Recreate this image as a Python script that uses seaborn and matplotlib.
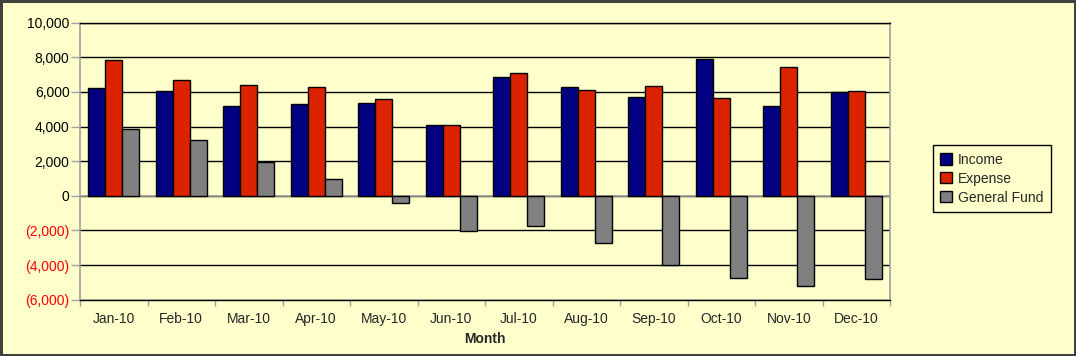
import numpy as np
import pandas as pd
import matplotlib
matplotlib.use("Agg")
import matplotlib.pyplot as plt
import matplotlib.ticker as mticker
import seaborn as sns

months = ["Jan-10", "Feb-10", "Mar-10", "Apr-10", "May-10", "Jun-10",
          "Jul-10", "Aug-10", "Sep-10", "Oct-10", "Nov-10", "Dec-10"]
income = [6200, 6050, 5170, 5280, 5340, 4070, 6840, 6270, 5690, 7880, 5170, 5980]
expense = [7820, 6670, 6380, 6270, 5570, 4070, 7080, 6090, 6320, 5630, 7420, 6040]
general_fund = [3840, 3200, 1930, 950, -440, -2060, -1770, -2750, -3970, -4720, -5180, -4780]
series_names = ["Income", "Expense", "General Fund"]
colors = ["#000080", "#DC2300", "#808080"]
yticks = [-6000, -4000, -2000, 0, 2000, 4000, 6000, 8000, 10000]

sns.set_style("white")
plt.rcParams['font.family'] = ['Liberation Sans', 'DejaVu Sans']

df = pd.DataFrame({
    "Month": months * 3,
    "Value": income + expense + general_fund,
    "Series": [series_names[0]] * 12 + [series_names[1]] * 12 + [series_names[2]] * 12,
})

bg = "#FFFFCC"
fig = plt.figure(figsize=(10.76, 3.56), dpi=100)
fig.patch.set_facecolor(bg)
fig.patch.set_edgecolor("#404040")
fig.patch.set_linewidth(2.5)

ax = fig.add_axes([80 / 1076, 1 - 299.7 / 356, 810 / 1076, 277 / 356])
ax.set_facecolor(bg)

sns.barplot(data=df, x="Month", y="Value", hue="Series", order=months,
            hue_order=series_names, palette=colors, width=0.76,
            edgecolor="black", linewidth=1.0, saturation=1, ax=ax, zorder=3)

ax.set_ylim(-6000, 10000)
ax.set_xlim(-0.5, len(months) - 0.5)
ax.set_yticks(yticks)

def fmt(v, pos=None):
    if v < 0:
        return "({:,.0f})".format(-v)
    return "{:,.0f}".format(v)

ax.set_yticklabels([fmt(v) for v in yticks], fontsize=10)
for lbl, v in zip(ax.get_yticklabels(), yticks):
    lbl.set_color("#FF0000" if v < 0 else "black")

for v in yticks:
    ax.axhline(v, color="black", linewidth=1.0, zorder=1)
ax.axhline(0, color="#A0A0A0", linewidth=1.2, zorder=2)

ax.tick_params(axis="y", which="major", length=6.5, width=1, color="#A0A0A0",
               left=True, pad=1)
ax.set_xticks(range(len(months)))
ax.set_xticklabels(months, fontsize=10)
ax.tick_params(axis="x", which="major", length=0, pad=9)
ax.xaxis.set_minor_locator(mticker.FixedLocator(np.arange(-0.5, len(months), 1.0)))
ax.tick_params(axis="x", which="minor", length=4, width=1, color="#A0A0A0", bottom=True)

for side in ["left", "right"]:
    ax.spines[side].set_color("#A0A0A0")
    ax.spines[side].set_linewidth(1.2)
for side in ["top", "bottom"]:
    ax.spines[side].set_color("black")
    ax.spines[side].set_linewidth(1.0)

ax.set_ylabel("")
ax.set_xlabel("Month", fontsize=10, fontweight="bold", labelpad=4)

handles, labels = ax.get_legend_handles_labels()
ax.legend(handles, labels, loc="center left",
          bbox_to_anchor=(932.5 / 1076, 1 - 178.7 / 356),
          bbox_transform=fig.transFigure, frameon=True, fancybox=False,
          edgecolor="black", facecolor=bg, framealpha=1, fontsize=10,
          handlelength=0.85, handleheight=0.85, handletextpad=0.4,
          labelspacing=0.35, borderpad=0.55, borderaxespad=0)
ax.get_legend().get_frame().set_linewidth(1.0)

fig.savefig("out.png", dpi=100, facecolor=bg, edgecolor=fig.patch.get_edgecolor())
